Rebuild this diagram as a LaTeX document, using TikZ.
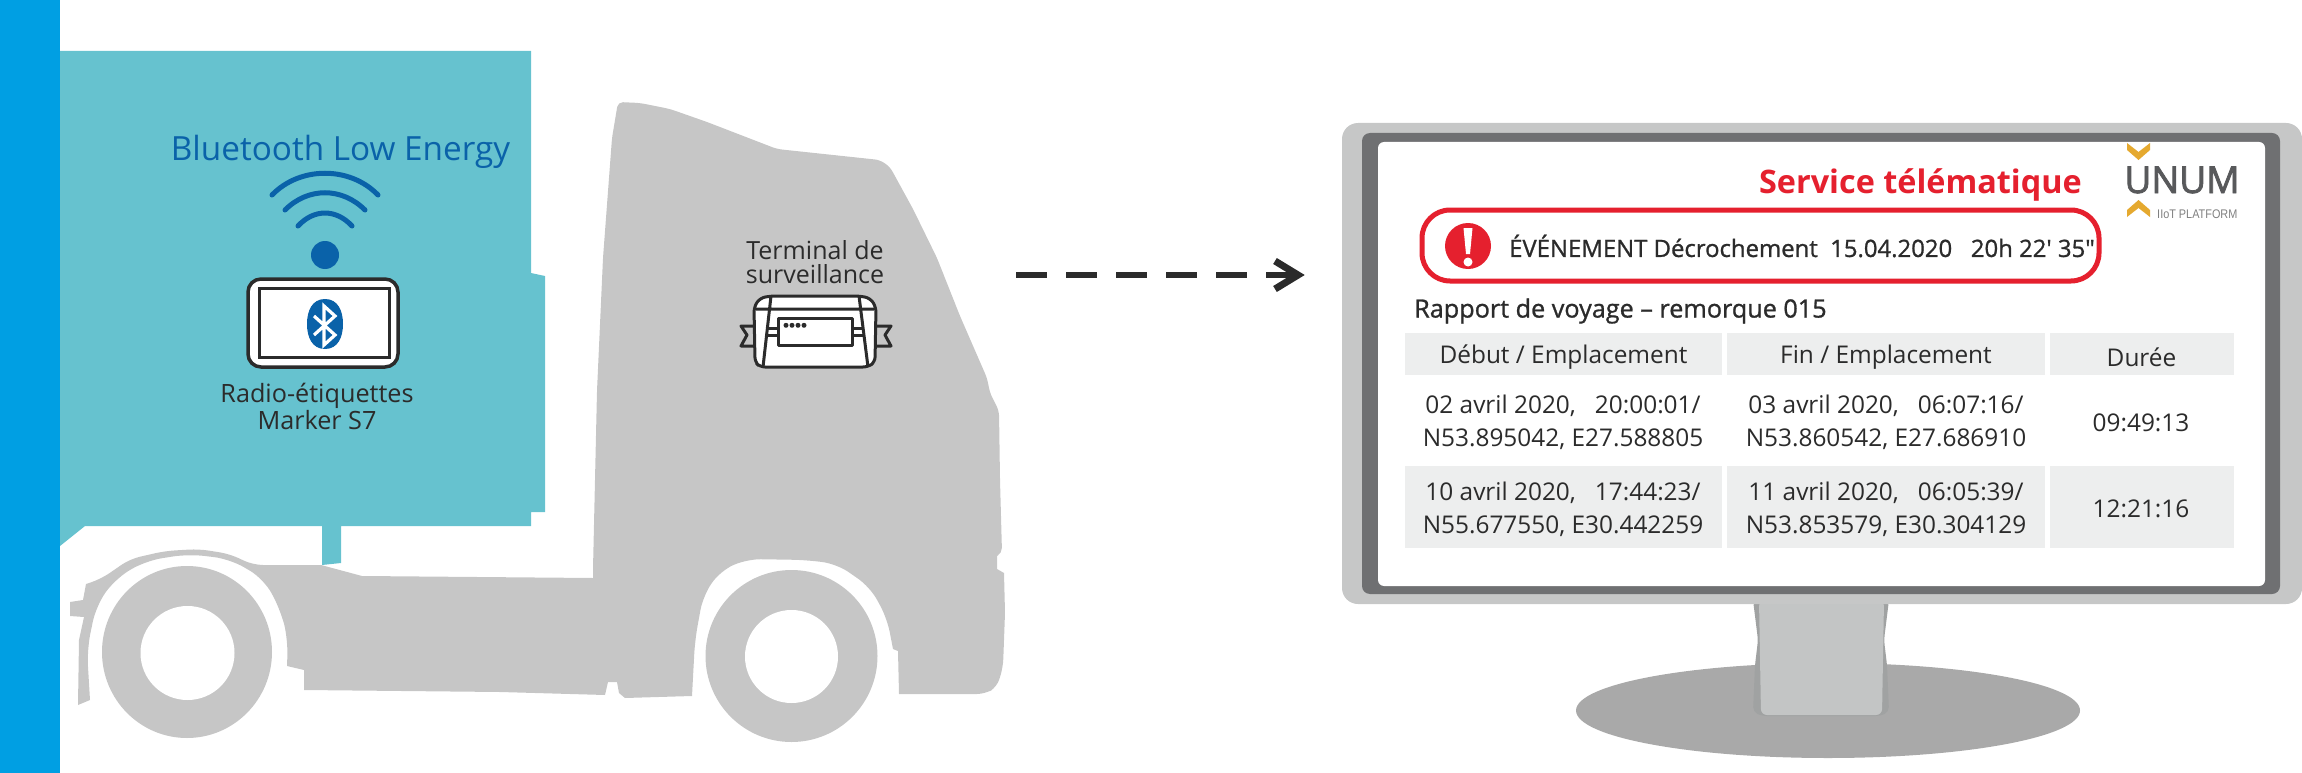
\documentclass[tikz,border=0pt]{standalone}
\usepackage{fontspec}
\setmainfont{Open Sans}
\newfontfamily\semib[FakeBold=1.0]{Open Sans}
\newfontfamily\heavyb[FakeBold=2.2]{Open Sans}
\newfontfamily\arialish{Liberation Sans}
\definecolor{barblue}{HTML}{009FE3}
\definecolor{trailerteal}{HTML}{66C2CF}
\definecolor{truckgrey}{HTML}{C6C6C6}
\definecolor{btblue}{HTML}{0A62A9}
\definecolor{inkdark}{HTML}{2B2B2B}
\definecolor{alertred}{HTML}{E5202E}
\definecolor{framelight}{HTML}{C6C7C7}
\definecolor{framedark}{HTML}{6F7072}
\definecolor{cellgrey}{HTML}{EDEEEE}
\definecolor{standbase}{HTML}{A9A9A9}
\definecolor{standedge}{HTML}{A0A2A2}
\definecolor{standface}{HTML}{C3C5C5}
\definecolor{logogrey}{HTML}{58595B}
\definecolor{logogold}{HTML}{E5A92F}
\tikzset{
  plain label/.style={inner sep=0pt, outer sep=0pt, align=center, text=inkdark},
  table cell/.style={fill=cellgrey, inner sep=0pt, outer sep=0pt, anchor=north west, align=center, text=inkdark},
  table text/.style={inner sep=0pt, outer sep=0pt, align=center, text=inkdark, font=\fontsize{24.4}{33}\selectfont},
  wifi arc/.style={draw=btblue, line width=5pt, line cap=round},
  device line/.style={draw=inkdark, line width=3pt, line join=round},
  chevron/.style={fill=logogold, draw=none}
}
\begin{document}
\begin{tikzpicture}[x=1pt,y=-1pt]
\useasboundingbox (0,0) rectangle (2302,773);

% side band
\fill[barblue] (0,0) rectangle (60,773);

% tractor silhouette
\fill[truckgrey, rounded corners=5pt]
  (618,102) -- (640,103) -- (670,109) -- (707,122) -- (777,149) -- (880,160) -- (890,167)
  -- (913,209) -- (937,258) -- (960,316) -- (987,378) -- (990,393) -- (999,411)
  -- (1000,480) -- (1002,553) [sharp corners] -- (997,556) -- (997,569) -- (1004,573)
  [rounded corners=8pt] -- (1005,613) -- (1003,667) -- (997,687) -- (985,694)
  [sharp corners] -- (899,694) -- (898,651) -- (893,649)
  [rounded corners=14pt] -- (887,618) -- (870,587) -- (837,564) -- (807,560) -- (747,559)
  -- (720,571) -- (703,596) -- (695,640) [sharp corners] -- (692,696)
  -- (625,698) -- (619,693) -- (617,682) -- (608,682) -- (605,695) -- (500,692) -- (304,690)
  -- (304,670) -- (287,666)
  [rounded corners=16pt] -- (288,640) -- (281,611) -- (264,579) -- (230,559) -- (188,554)
  -- (145,561) -- (115,579) -- (96,606) -- (87,650) [sharp corners] -- (90,700) -- (78,705)
  -- (79,640) -- (84,617) -- (70,616) -- (70,602) -- (83,600) -- (86,584)
  [rounded corners=10pt] -- (101,579) -- (130,559) -- (165,551) -- (199,549) -- (230,554)
  -- (253,565) [sharp corners] -- (321,565) -- (362,576) -- (593,578)
  [rounded corners=5pt] -- (593,569) -- (597,391) -- (603,258) -- (612,138) -- cycle;

% wheels
\fill[truckgrey] (187,652) ellipse [x radius=85, y radius=86];
\fill[white] (187.5,653) ellipse [x radius=47, y radius=47];
\fill[truckgrey] (791.5,656) ellipse [x radius=86, y radius=86];
\fill[white] (791.5,656.5) ellipse [x radius=46.5, y radius=46.5];

% trailer
\fill[trailerteal]
  (60,51) -- (531,51) -- (531,273) -- (545,276) -- (545,512) -- (531,512) -- (531,526)
  -- (341,526) -- (341,563) -- (322,565) -- (322,526) -- (85,526) -- (60,546) -- cycle;

% wireless tag
\node[inner sep=0pt, text=btblue, font=\fontsize{33.3}{33}\selectfont] (bletitle) at (340.5,152) {Bluetooth Low Energy};
\draw[wifi arc] (272,195) .. controls (300,166) and (350,166) .. (378,195);
\draw[wifi arc] (285,210) .. controls (308,187) and (342,187) .. (365,210);
\draw[wifi arc] (298,226) .. controls (314,208.7) and (336,208.7) .. (352,226);
\fill[btblue] (325,255) circle (14);
\node[draw=inkdark, fill=white, line width=3.5pt, rounded corners=13pt, minimum width=150pt, minimum height=88pt, inner sep=0pt] (tagbody) at (323,323) {};
\node[draw=inkdark, fill=white, line width=3pt, minimum width=130pt, minimum height=69pt, inner sep=0pt] (tagface) at (324.5,323) {};
\fill[btblue] (325,299) .. controls (338,299) and (343,311) .. (343,324)
  .. controls (343,337) and (338,349) .. (325,349)
  .. controls (312,349) and (307,337) .. (307,324)
  .. controls (307,311) and (312,299) .. (325,299) -- cycle;
\draw[white, line width=3.2pt, line join=miter] (314,316) -- (335,335) -- (324,345) -- (324,306) -- (335,316) -- (314,335);
\node[plain label, font=\fontsize{25.2}{23}\selectfont] (taglabel) at (317,406.5) {Radio-étiquettes\\Marker S7};

% monitoring terminal
\node[plain label, font=\fontsize{25}{24}\selectfont] (termlabel) at (815,262) {Terminal de\\surveillance};
\draw[device line] (754,326) -- (741,326) -- (747,335) -- (741,346) -- (754,346);
\draw[device line] (876,326) -- (891,326) -- (885,335) -- (891,346) -- (876,346);
\draw[device line, fill=white, rounded corners=5pt] (760,298) -- (771,296) -- (859,296) -- (870,298) -- (876,307) -- (875,362) -- (868,367) -- (760,367) -- (755,362) -- (754,307) -- cycle;
\draw[device line] (771,296) -- (763,367) (859,296) -- (868,367) (756,309) -- (874,309);
\draw[device line] (767,328) -- (778,328) (766,335) -- (778,335) (852,328) -- (863,328) (852,335) -- (864,335);
\draw[device line] (778,318) rectangle (852,345);
\foreach \dx in {786,792,798,804} \fill[inkdark] (\dx,325.3) circle (2.5);

% dashed transfer arrow
\coordinate (arrowstart) at (1016,275);
\coordinate (arrowtip) at (1298,275);
\draw[inkdark, line width=6pt, dash pattern=on 31pt off 19pt] (arrowstart) -- (arrowtip);
\draw[inkdark, line width=7pt, miter limit=10] (1275,261) -- (arrowtip) -- (1275,289);

% monitor stand
\fill[standbase] (1828,710.5) ellipse [x radius=252, y radius=47.5];
\fill[standedge, rounded corners=5pt] (1753,600) -- (1758,640) -- (1755,665) -- (1753,712) -- (1762,716) -- (1880,716) -- (1889,712) -- (1887,665) -- (1884,640) -- (1889,600) -- cycle;
\fill[standface, rounded corners=6pt] (1759,600) -- (1761,715) -- (1882,715) -- (1884,600) -- cycle;

% monitor housing
\fill[framelight, rounded corners=16pt] (1342,123) rectangle (2302,604);
\fill[framedark, rounded corners=8pt] (1362,133) rectangle (2280,594);
\fill[white, rounded corners=6pt] (1378,142) rectangle (2265,586);

% screen header
\node[inner sep=0pt, text=alertred, font=\fontsize{32.4}{32}\selectfont\bfseries, anchor=east] (screentitle) at (2082,185) {Service télématique};
\node[draw=alertred, line width=5pt, rounded corners=28pt, minimum width=677pt, minimum height=71pt, inner sep=0pt] (alertbox) at (1760.5,245.5) {};
\fill[alertred] (1468,246) circle (23);
\fill[white] (1463.5,228) -- (1472.5,228) -- (1470,254) -- (1466,254) -- cycle;
\fill[white] (1468,262) circle (4.5);
\node[inner sep=0pt, text=inkdark, anchor=west, font=\fontsize{23.9}{24}\semib] (alerttext) at (1509,246) {ÉVÉNEMENT Décrochement\ \ 15.04.2020\ \ \ 20h 22' 35"};
\node[inner sep=0pt, text=inkdark, anchor=west, font=\fontsize{25.2}{24}\semib] (reporttitle) at (1414,311) {Rapport de voyage – remorque 015};

% logo
\fill[chevron] (2127,143) -- (2138.5,152) -- (2150,143) -- (2150,150) -- (2138.5,160) -- (2127,150) -- cycle;
\fill[chevron] (2127,217) -- (2138.5,208) -- (2150,217) -- (2150,210) -- (2138.5,200) -- (2127,210) -- cycle;
\node[inner sep=0pt, text=logogrey, font=\fontsize{37}{37}\heavyb] (logoword) at (2182,180) {\scalebox{1.0}[1]{UNUM}};
\node[inner sep=0pt, text=gray, font=\fontsize{12.5}{13}\arialish, anchor=west] (logosub) at (2157,214) {\scalebox{0.87}[1]{IIoT PLATFORM}};

% trip table: header row
\node[table cell, minimum width=317pt, minimum height=42pt] (h1) at (1405,333) {};
\node[table cell, minimum width=318pt, minimum height=42pt] (h2) at (1727,333) {};
\node[table cell, minimum width=184pt, minimum height=42pt] (h3) at (2049.5,333) {};
\node[table text] (h1t) at ([yshift=-3pt]h1.center) {Début / Emplacement};
\node[table text] (h2t) at ([yshift=-3pt]h2.center) {Fin / Emplacement};
\node[table text] (h3t) at ([yshift=-3pt]h3.center) {Durée};

% trip table: first trip
\node[table text] (a1) at (1563,422.5) {02 avril 2020,\ \ \ 20:00:01/\\N53.895042, E27.588805};
\node[table text] (a2) at (1886,422.5) {03 avril 2020,\ \ \ 06:07:16/\\N53.860542, E27.686910};
\node[table text] (a3) at (2141,423) {09:49:13};

% trip table: second trip
\node[table cell, minimum width=317pt, minimum height=82pt] (b1c) at (1405,466) {};
\node[table cell, minimum width=318pt, minimum height=82pt] (b2c) at (1727,466) {};
\node[table cell, minimum width=184pt, minimum height=82pt] (b3c) at (2049.5,466) {};
\node[table text] (b1) at (1563,509.5) {10 avril 2020,\ \ \ 17:44:23/\\N55.677550, E30.442259};
\node[table text] (b2) at (1886,509.5) {11 avril 2020,\ \ \ 06:05:39/\\N53.853579, E30.304129};
\node[table text] (b3) at (2141,509) {12:21:16};
\end{tikzpicture}
\end{document}
